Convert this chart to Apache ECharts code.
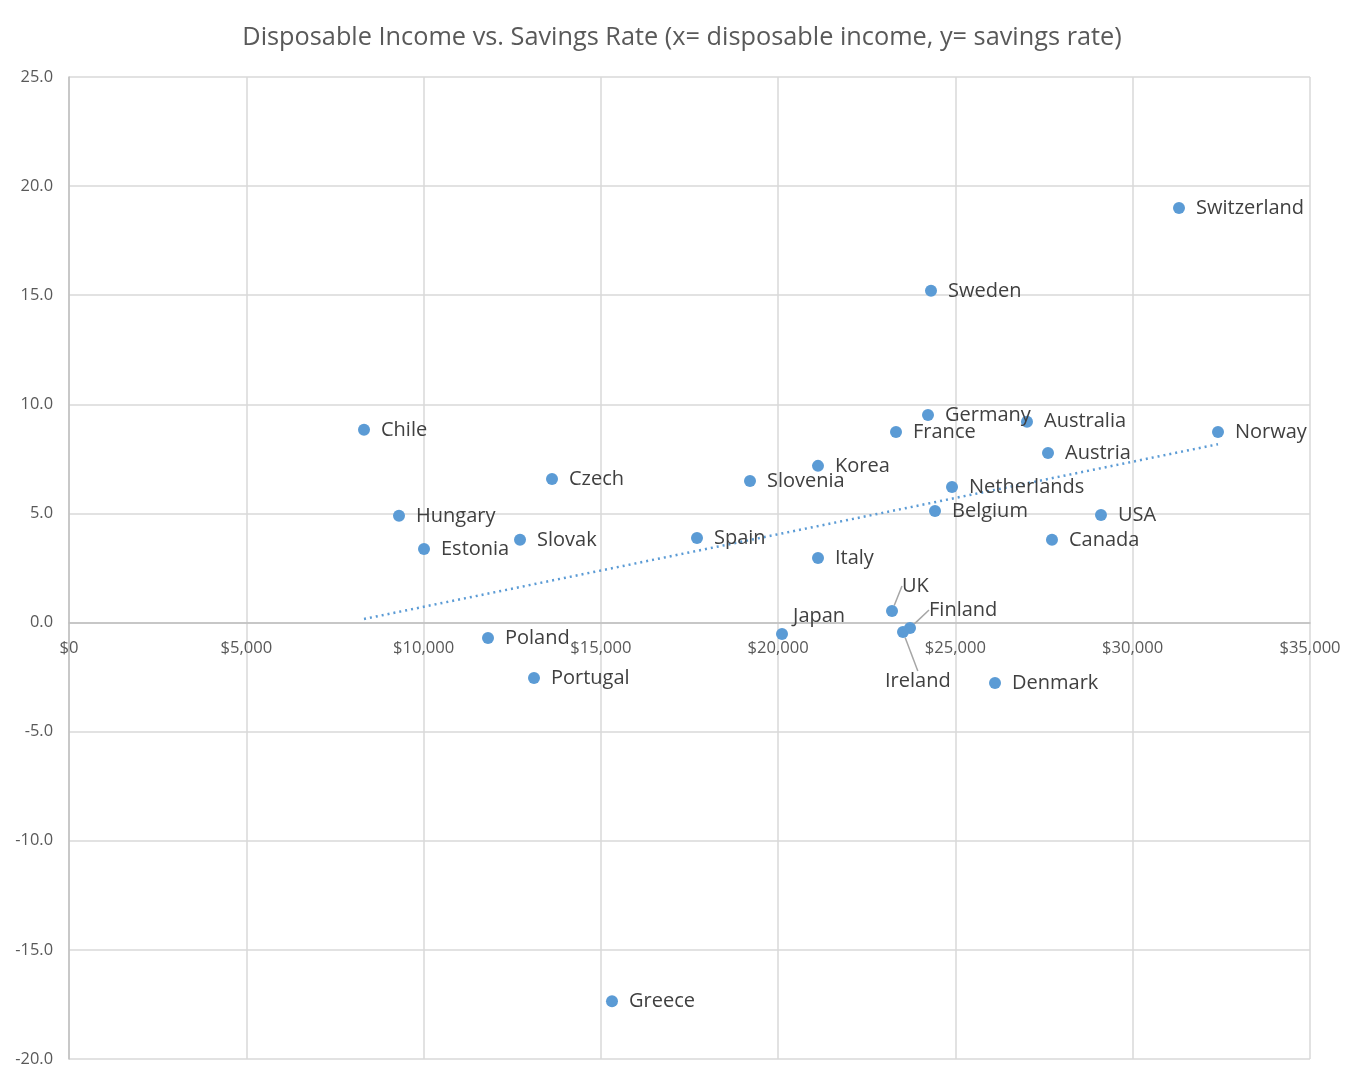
<!DOCTYPE html>
<html>
<head>
<meta charset="utf-8">
<script src="https://cdn.jsdelivr.net/npm/echarts@6/dist/echarts.min.js"></script>
<style>
html,body{margin:0;padding:0;background:#fff;}
#main{width:1364px;height:1083px;}
</style>
</head>
<body>
<div id="main"></div>
<script>
const countries = ["Chile","Hungary","Estonia","Slovak","Czech","Poland","Portugal","Greece","Spain","Slovenia","Japan","Korea","Italy","France","Germany","Sweden","UK","Finland","Ireland","Netherlands","Belgium","Australia","Austria","Canada","USA","Denmark","Norway","Switzerland"];
const income = [8320,9307,10012,12720,13622,11817,13114,15314,17711,19206,20109,21124,21124,23324,24226,24311,23211,23719,23521,24903,24424,27018,27611,27723,29105,26116,32405,31305];
const savings = [8.83,4.89,3.37,3.79,6.58,-0.71,-2.54,-17.35,3.88,6.49,-0.52,7.18,2.96,8.73,9.51,15.2,0.53,-0.25,-0.43,6.21,5.11,9.2,7.77,3.79,4.93,-2.77,8.73,19.0];
const xTicks = [0,5000,10000,15000,20000,25000,30000,35000];
const yTicks = [-20,-15,-10,-5,0,5,10,15,20,25];

// label adjustments (style only)
const labelShift = {
  "Japan": [-6,-18],
  "UK": [-7,-25],
  "Finland": [2,-18],
  "Ireland": [-35,49]
};
const leaders = new Set(["UK","Finland","Ireland"]);

// linear trendline (least squares) from the data
const n = income.length;
const mx = income.reduce((a,b)=>a+b,0)/n;
const my = savings.reduce((a,b)=>a+b,0)/n;
let sxy=0, sxx=0;
for(let i=0;i<n;i++){sxy+=(income[i]-mx)*(savings[i]-my);sxx+=(income[i]-mx)*(income[i]-mx);}
const slope = sxy/sxx, icpt = my - slope*mx;
const xmin = Math.min(...income), xmax = Math.max(...income);
const trend = [[xmin, icpt+slope*xmin],[xmax, icpt+slope*xmax]];

const pts = countries.map((c,i)=>{
  const d = {name:c, value:[income[i], savings[i]]};
  if (leaders.has(c)) d.labelLine = {show:true};
  return d;
});

const chart = echarts.init(document.getElementById('main'));
const font = "'Open Sans', 'Noto Sans', sans-serif";
const gridTop = 77, gridBottom = 24, chartH = 1083;
const plotH = chartH - gridTop - gridBottom;
const zeroFromBottom = plotH * (0 - yTicks[0]) / (yTicks[yTicks.length-1] - yTicks[0]);
chart.setOption({
  animation:false,
  title:{
    text:"Disposable Income vs. Savings Rate (x= disposable income, y= savings rate)",
    left:'center', top:20,
    textStyle:{fontFamily:font, fontSize:25.3, fontWeight:'normal', color:'#595959'}
  },
  grid:{left:69, right:54, top:gridTop, bottom:gridBottom, containLabel:false, outerBoundsMode:'none'},
  xAxis:{
    type:'value', min:xTicks[0], max:xTicks[xTicks.length-1], interval:5000,
    axisLine:{show:true, onZero:true, lineStyle:{color:'#bfbfbf', width:1.5}},
    axisTick:{show:false},
    axisLabel:{fontFamily:font, fontSize:16.6, color:'#595959', margin:17 - zeroFromBottom,
      formatter:v=>'$'+v.toLocaleString('en-US')},
    splitLine:{show:true, lineStyle:{color:'#d9d9d9', width:1.5}}
  },
  yAxis:{
    type:'value', min:yTicks[0], max:yTicks[yTicks.length-1], interval:5,
    axisLine:{show:true, onZero:false, lineStyle:{color:'#bfbfbf', width:1.5}},
    axisTick:{show:false},
    axisLabel:{fontFamily:font, fontSize:16.4, color:'#595959', margin:16,
      formatter:v=>v.toFixed(1)},
    splitLine:{show:true, lineStyle:{color:'#d9d9d9', width:1.5}}
  },
  series:[
    {
      type:'line', data:trend, symbol:'none', silent:true, z:1,
      lineStyle:{color:'#5B9BD5', width:2.5, type:[2,4]}
    },
    {
      type:'scatter', data:pts, symbolSize:12, z:3,
      itemStyle:{color:'#5B9BD5', opacity:1},
      label:{show:true, position:'right', distance:11, formatter:p=>p.name,
        fontFamily:font, fontSize:20, color:'#404040'},
      labelLine:{show:false, lineStyle:{color:'#a6a6a6', width:1.5}},
      labelLayout:function(p){
        const name = countries[p.dataIndex];
        const s = labelShift[name];
        if (s) return {dx:s[0], dy:s[1]};
        return {};
      }
    }
  ]
});
</script>
</body>
</html>
